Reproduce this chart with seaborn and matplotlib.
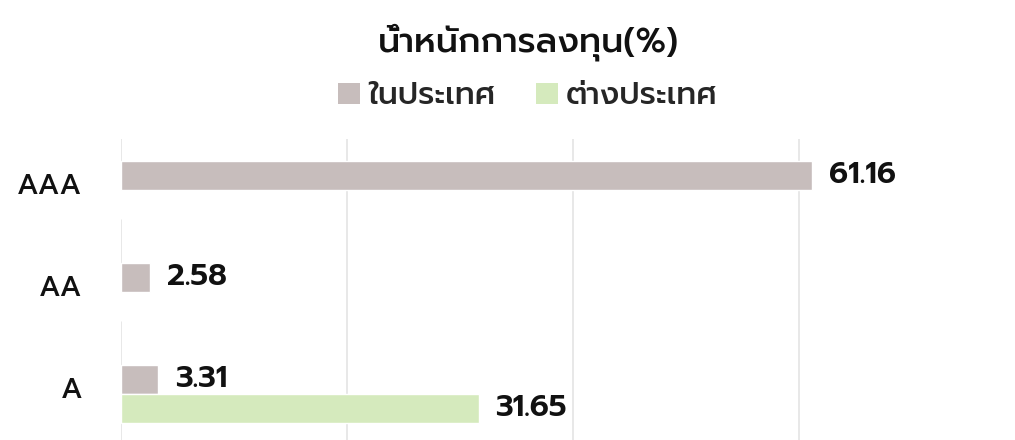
import matplotlib
matplotlib.use("Agg")
import matplotlib.pyplot as plt
import matplotlib.transforms as mtransforms
from matplotlib.patches import Patch
import numpy as np
import pandas as pd
import seaborn as sns

# ---- data ----
categories = ["AAA", "AA", "A"]
domestic = [61.16, 2.58, 3.31]
foreign = [0.0, 0.0, 31.65]
series_names = ["ในประเทศ", "ต่างประเทศ"]
title = "น้ำหนักการลงทุน(%)"
colors = ["#c7bdbc", "#d5eabd"]

sns.set_theme(style="white")
FAM = ["Prompt", "DejaVu Sans"]
plt.rcParams["font.family"] = FAM

df = pd.DataFrame({
    "rating": categories * 2,
    "region": [series_names[0]] * 3 + [series_names[1]] * 3,
    "value": domestic + foreign,
})

W, H = 1015, 440
fig = plt.figure(figsize=(W / 100, H / 100), dpi=100)
x0, x1 = 121, 1015
ytop = 139
ax = fig.add_axes([x0 / W, 0, (x1 - x0) / W, 1 - ytop / H])

sns.barplot(data=df, y="rating", x="value", hue="region", orient="h",
            palette=colors, width=0.57, order=categories,
            hue_order=series_names, ax=ax, legend=False, saturation=1)

px_per_unit = 226 / 20.0
ax.set_xlim(0, (x1 - x0) / px_per_unit)
ax.set_ylim(-0.5 + (H - ytop) / 102.0, -0.5)
ax.set_xticks([0, 20, 40, 60])
ax.set_xticklabels([])
ax.grid(axis="x", color="#e2e2e2", linewidth=1.1)
ax.grid(axis="y", visible=False)
ax.set_axisbelow(True)
for s in ax.spines.values():
    s.set_visible(False)
ax.tick_params(axis="y", length=0, pad=28, labelsize=20.5, labelcolor="#111111")
ax.tick_params(axis="x", length=0)
shift = mtransforms.ScaledTranslation(0, 6 / 100, fig.dpi_scale_trans)
for lab in ax.get_yticklabels():
    lab.set_fontweight(500)
    lab.set_transform(lab.get_transform() + shift)
ax.set_xlabel("")
ax.set_ylabel("")

# value labels
for container in ax.containers:
    labels = [("%.2f" % v) if v > 0 else "" for v in container.datavalues]
    ax.bar_label(container, labels=labels, padding=12, fontsize=22,
                 fontweight=600, color="#111111", family=FAM)

# title and legend
cx = 528 / W
fig.text(cx, 1 - 42 / H, title, ha="center", va="center", fontsize=25,
         fontweight=500, color="#111111", family=FAM)
handles = [Patch(facecolor=c, edgecolor="none") for c in colors]
fig.legend(handles, series_names, loc="center", bbox_to_anchor=(cx, 1 - 96 / H),
           ncol=2, frameon=False, handlelength=0.7,
           handleheight=0.7, handletextpad=0.26, columnspacing=1.3,
           borderaxespad=0, borderpad=0,
           prop={"family": FAM, "size": 22.5, "weight": 500})

fig.savefig("out.png", dpi=100)
